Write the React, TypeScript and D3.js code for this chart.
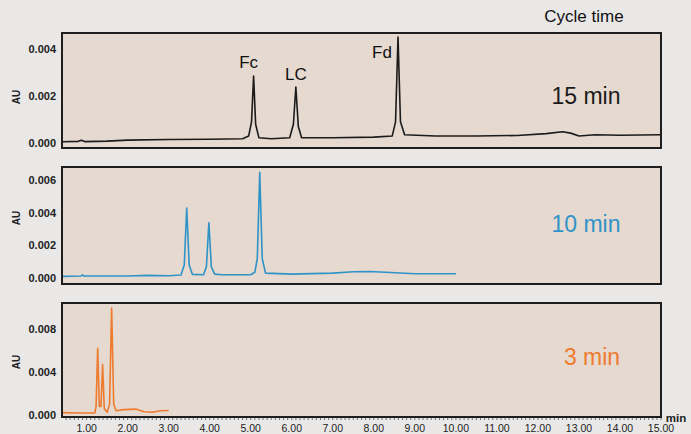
import React from "react";
import * as d3 from "d3";

// ---- Data (time in min, absorbance in AU) ----
const trace15: [number, number][] = [
  [0.4, 0.00005], [0.8, 0.00007], [0.87, 0.00012], [0.95, 0.00006], [1.5, 0.00008], [2.0, 0.00012],
  [3.0, 0.00015], [4.0, 0.00016], [4.8, 0.00018], [4.95, 0.0003], [5.02, 0.0009],
  [5.07, 0.00285], [5.12, 0.0008], [5.2, 0.00022], [5.5, 0.00018], [5.95, 0.00022],
  [6.04, 0.0008], [6.1, 0.00238], [6.16, 0.0007], [6.24, 0.00022], [7.0, 0.00022],
  [8.0, 0.00025], [8.45, 0.0003], [8.53, 0.0009], [8.59, 0.00451], [8.65, 0.0009],
  [8.75, 0.00035], [9.5, 0.0003], [10.5, 0.0003], [11.5, 0.00032], [12.2, 0.0004],
  [12.6, 0.00048], [12.8, 0.00042], [13.0, 0.0003], [13.4, 0.00035], [14.0, 0.00033],
  [15.0, 0.00035],
];
const trace10: [number, number][] = [
  [0.4, 0.0001], [0.87, 0.00012], [0.9, 0.0002], [0.93, 0.00012], [2.0, 0.00012], [2.5, 0.00016],
  [3.0, 0.00014], [3.3, 0.00018], [3.38, 0.0008], [3.44, 0.0043], [3.5, 0.0008],
  [3.58, 0.00022], [3.85, 0.0002], [3.92, 0.0007], [3.98, 0.0034], [4.04, 0.0007],
  [4.12, 0.00024], [4.3, 0.0002], [5.0, 0.0002], [5.1, 0.00035], [5.16, 0.0012],
  [5.22, 0.0065], [5.28, 0.0012], [5.36, 0.0003], [6.0, 0.00024], [7.0, 0.0003],
  [7.5, 0.00038], [7.9, 0.0004], [8.4, 0.00034], [9.0, 0.00026], [10.0, 0.00026],
];
const trace3: [number, number][] = [
  [0.4, 0.00022], [0.8, 0.00018], [1.2, 0.0002], [1.23, 0.0008], [1.27, 0.0062],
  [1.31, 0.0008], [1.35, 0.0008], [1.39, 0.0047], [1.43, 0.0006], [1.5, 0.00025],
  [1.56, 0.001], [1.61, 0.00995], [1.66, 0.001], [1.72, 0.0004], [1.9, 0.0005],
  [2.2, 0.00055], [2.4, 0.0003], [2.6, 0.00025], [2.8, 0.0004], [3.0, 0.00042],
];
const xTicks = [1, 2, 3, 4, 5, 6, 7, 8, 9, 10, 11, 12, 13, 14, 15];
const yTicks15 = [0, 0.002, 0.004];
const yTicks10 = [0, 0.002, 0.004, 0.006];
const yTicks3 = [0, 0.004, 0.008];
const peakNames = ["Fc", "LC", "Fd"];
const peakTimes = [5.07, 6.1, 8.59];
const peakLabelValues = [0.0032, 0.0027, 0.0036];
const panelLabels = ["15 min", "10 min", "3 min"];

const W = 691, H = 434;
const left = 62, right = 661;
const FONT = "'Liberation Sans', Arial, sans-serif";
const BLACK = "#1b1b1b", BLUE = "#2f93c8", ORANGE = "#ee7a2e";

const x = d3.scaleLinear().domain([0.4, 15.0]).range([left, right]);

type Panel = {
  data: [number, number][]; top: number; bottom: number; domain: [number, number];
  ticks: number[]; color: string; label: string; labelX: number; labelY: number; auY: number;
};
const panels: Panel[] = [
  { data: trace15, top: 33, bottom: 148, domain: [-0.000213, 0.00468], ticks: yTicks15, color: BLACK, label: panelLabels[0], labelX: 586, labelY: 104, auY: 97 },
  { data: trace10, top: 167, bottom: 284, domain: [-0.00037, 0.00683], ticks: yTicks10, color: BLUE, label: panelLabels[1], labelX: 586, labelY: 232, auY: 218 },
  { data: trace3, top: 303, bottom: 417, domain: [-0.000186, 0.01042], ticks: yTicks3, color: ORANGE, label: panelLabels[2], labelX: 592, labelY: 365, auY: 362 },
];

export default function App() {
  const fmt = d3.format(".3f");
  const minor = d3.range(0.5, 15.01, 0.1);
  return (
    <svg width={W} height={H} style={{ position: "absolute", left: 0, top: 0 }} fontFamily={FONT}>
      <rect x={0} y={0} width={W} height={H} fill="#e9e8e7" />
      <text x={584} y={22} fontSize={17} textAnchor="middle" fill="#111">Cycle time</text>
      {panels.map((p, i) => {
        const y = d3.scaleLinear().domain(p.domain).range([p.bottom, p.top]);
        const line = d3.line<[number, number]>().x(d => x(d[0])).y(d => y(d[1]));
        return (
          <g key={i}>
            <rect x={left} y={p.top} width={right - left} height={p.bottom - p.top} fill="#e6d9cf" />
            <path d={line(p.data) || ""} fill="none" stroke={p.color} strokeWidth={1.6} strokeLinejoin="round" />
            <rect x={left} y={p.top} width={right - left} height={p.bottom - p.top} fill="none" stroke="#1e1e1e" strokeWidth={2} />
            {p.ticks.map(t => (
              <text key={t} x={56} y={y(t) + 4} fontSize={11} fontWeight="bold" textAnchor="end" fill="#222">{fmt(t)}</text>
            ))}
            <text transform={`translate(20,${p.auY}) rotate(-90)`} fontSize={10} fontWeight="bold" textAnchor="middle" fill="#222">AU</text>
            <text x={p.labelX} y={p.labelY} fontSize={23} textAnchor="middle" fill={p.color}>{p.label}</text>
            {i === 0 && peakNames.map((n, k) => (
              <text key={n} x={x(peakTimes[k]) - 5 - (k === 2 ? 11 : 0) + (k === 1 ? 5 : 0)} y={y(peakLabelValues[k])} fontSize={17} textAnchor="middle" fill="#111">{n}</text>
            ))}
          </g>
        );
      })}
      {minor.map((t, k) => (
        <line key={k} x1={x(t)} x2={x(t)} y1={418} y2={420} stroke="#555" strokeWidth={0.8} />
      ))}
      {xTicks.map(t => (
        <text key={t} x={x(t)} y={432} fontSize={10.5} textAnchor="middle" fill="#222">{t.toFixed(2)}</text>
      ))}
      <text x={676} y={422} fontSize={11.5} fontWeight="bold" textAnchor="middle" fill="#222">min</text>
    </svg>
  );
}
